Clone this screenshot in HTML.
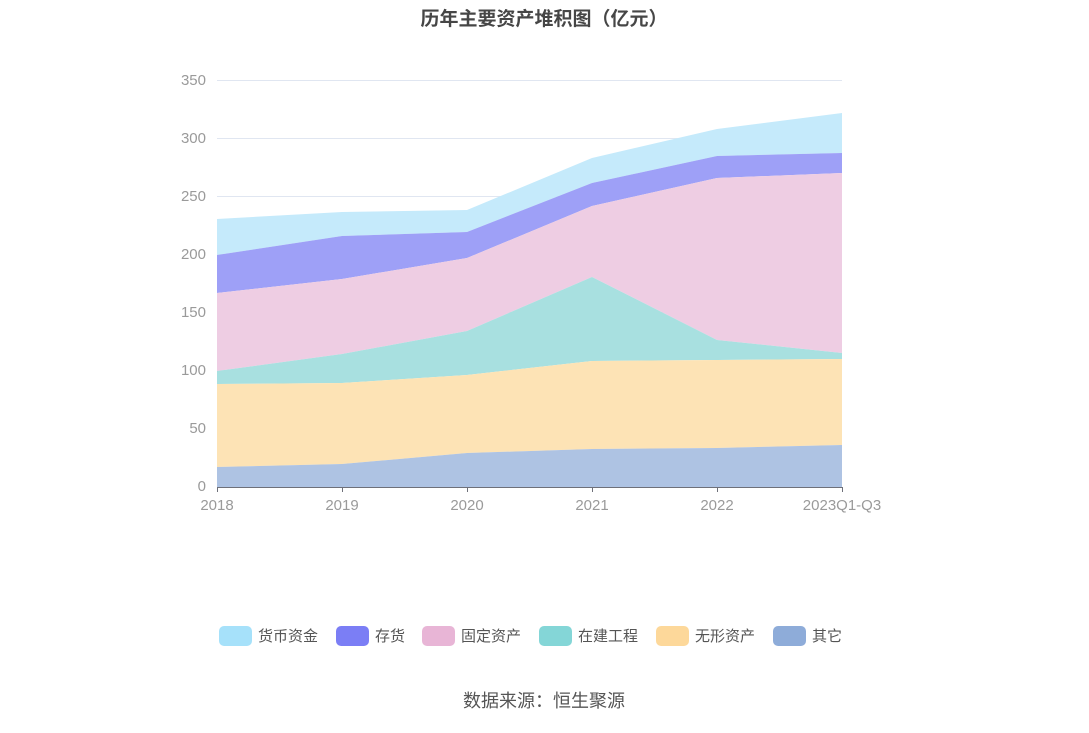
<!DOCTYPE html>
<html><head><meta charset="utf-8"><style>
body{margin:0;background:#fff;}
svg text{font-family:"Liberation Sans","Noto Sans CJK SC",sans-serif;}
</style></head><body>
<svg width="1089" height="728" xmlns="http://www.w3.org/2000/svg">
<text x="544" y="25" text-anchor="middle" font-size="19" font-weight="bold" fill="#464646">历年主要资产堆积图（亿元）</text>
<g stroke="#e0e6f1" stroke-width="1">
<line x1="217" x2="842" y1="80.5" y2="80.5"/><line x1="217" x2="842" y1="138.5" y2="138.5"/>
<line x1="217" x2="842" y1="196.5" y2="196.5"/><line x1="217" x2="842" y1="254.5" y2="254.5"/>
<line x1="217" x2="842" y1="312.5" y2="312.5"/><line x1="217" x2="842" y1="370.5" y2="370.5"/>
<line x1="217" x2="842" y1="428.5" y2="428.5"/>
</g>
<g font-size="15" fill="#9a9a9a" text-anchor="end">
<text x="206" y="85">350</text><text x="206" y="143">300</text><text x="206" y="201">250</text>
<text x="206" y="259">200</text><text x="206" y="317">150</text><text x="206" y="375">100</text>
<text x="206" y="433">50</text><text x="206" y="491">0</text>
</g>
<polygon fill="#c5eafb" points="217,219 342,212 467,210 592,158 717,129 842,113 842,153 717,156 592,183 467,232 342,236 217,255"/>
<polygon fill="#9ea0f7" points="217,255 342,236 467,232 592,183 717,156 842,153 842,173 717,178 592,206 467,258 342,279 217,293"/>
<polygon fill="#eecde3" points="217,293 342,279 467,258 592,206 717,178 842,173 842,353 717,340 592,277 467,331 342,354 217,371"/>
<polygon fill="#a8e0e0" points="217,371 342,354 467,331 592,277 717,340 842,353 842,359 717,360 592,361 467,375 342,383 217,384"/>
<polygon fill="#fde3b5" points="217,384 342,383 467,375 592,361 717,360 842,359 842,445 717,448 592,449 467,453 342,464 217,467"/>
<polygon fill="#aec3e3" points="217,467 342,464 467,453 592,449 717,448 842,445 842,487 217,487"/>
<line x1="217" x2="842" y1="487.5" y2="487.5" stroke="#6e7079"/>
<g stroke="#6e7079"><line x1="217.5" x2="217.5" y1="487" y2="492"/><line x1="342.5" x2="342.5" y1="487" y2="492"/><line x1="467.5" x2="467.5" y1="487" y2="492"/><line x1="592.5" x2="592.5" y1="487" y2="492"/><line x1="717.5" x2="717.5" y1="487" y2="492"/><line x1="842.5" x2="842.5" y1="487" y2="492"/></g>
<g font-size="15" fill="#9a9a9a" text-anchor="middle">
<text x="217" y="510">2018</text><text x="342" y="510">2019</text><text x="467" y="510">2020</text>
<text x="592" y="510">2021</text><text x="717" y="510">2022</text><text x="842" y="510">2023Q1-Q3</text>
</g>
<g font-size="15" fill="#555">
<rect x="219" y="626" width="33" height="20" rx="5" fill="#a6e1fa"/><text x="258" y="641">货币资金</text>
<rect x="336" y="626" width="33" height="20" rx="5" fill="#7b7ef5"/><text x="375" y="641">存货</text>
<rect x="422" y="626" width="33" height="20" rx="5" fill="#e8b5d6"/><text x="461" y="641">固定资产</text>
<rect x="539" y="626" width="33" height="20" rx="5" fill="#84d6d7"/><text x="578" y="641">在建工程</text>
<rect x="656" y="626" width="33" height="20" rx="5" fill="#fdd89a"/><text x="695" y="641">无形资产</text>
<rect x="773" y="626" width="33" height="20" rx="5" fill="#8eacd9"/><text x="812" y="641">其它</text>
</g>
<text x="544" y="707" text-anchor="middle" font-size="18" fill="#555">数据来源：恒生聚源</text>
</svg>
</body></html>
